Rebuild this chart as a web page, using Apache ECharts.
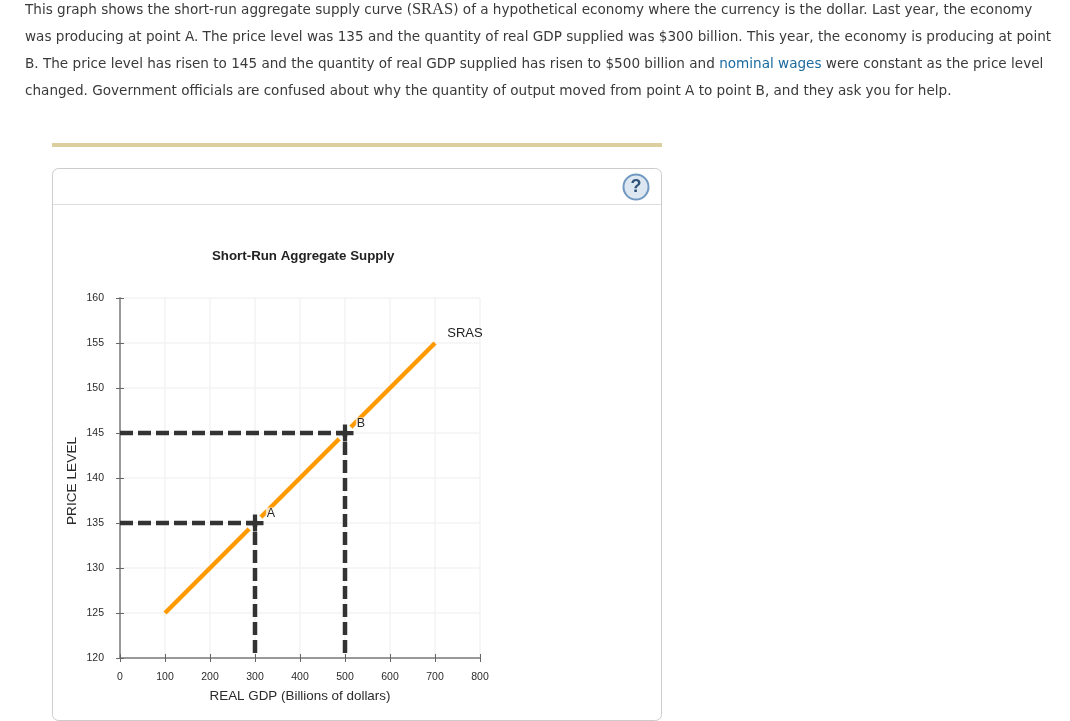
<!DOCTYPE html>
<html><head><meta charset="utf-8">
<style>html,body{margin:0;padding:0;background:#fff}#c{width:1070px;height:721px}</style>
<script src="https://cdn.jsdelivr.net/npm/echarts@6/dist/echarts.min.js"></script>
</head><body><div id="c"></div>
<script>
const paragraph = [
  'This graph shows the short-run aggregate supply curve ({s|SRAS}) of a hypothetical economy where the currency is the dollar. Last year, the economy',
  'was producing at point A. The price level was 135 and the quantity of real GDP supplied was $300 billion. This year, the economy is producing at point',
  'B. The price level has risen to 145 and the quantity of real GDP supplied has risen to $500 billion and {b|nominal wages} were constant as the price level',
  'changed. Government officials are confused about why the quantity of output moved from point A to point B, and they ask you for help.'
];
const chartTitle = 'Short-Run Aggregate Supply';
const xName = 'REAL GDP (Billions of dollars)';
const yName = 'PRICE LEVEL';
const sras = [[100,125],[700,155]];
const guideA = [[0,135],[300,135],[300,120]];
const guideB = [[0,145],[500,145],[500,120]];
const points = [['A',300,135],['B',500,145]];
const curveLabel = ['SRAS',700,155];
const plus = 'path://M3,0H5V3H8V5H5V8H3V5H0V3H3Z';
const AX='#999', GRID='#f3f3f3', TXT='#2b2b2b', DARK='#333';
const font='"Liberation Sans",Arial,sans-serif';

const chart = echarts.init(document.getElementById('c'),null,{renderer:'canvas'});
const base = {min:0,max:800,interval:100};
const ybase = {min:120,max:160,interval:5};
const lineY=[9,36,63,90];
const paraFont='13.58px "DejaVu Sans",Verdana,sans-serif';
const graphic = [
  ...paragraph.map((t,i)=>({type:'text',left:25,top:lineY[i]-8,silent:true,style:{
    text:t,font:paraFont,fill:'#3a3a3a',lineHeight:18,verticalAlign:'top',
    rich:{s:{font:'16.5px "Liberation Serif",serif',fill:'#3a3a3a'},b:{font:paraFont,fill:'#1a6a9e'}}
  }})),
  {type:'rect',shape:{x:52,y:143,width:610,height:4},style:{fill:'#dccf9f'},silent:true},
  {type:'rect',shape:{x:52.5,y:168.5,width:609,height:552,r:6},style:{fill:'none',stroke:'#ccc',lineWidth:1},silent:true},
  {type:'line',shape:{x1:53,y1:204.5,x2:661,y2:204.5},style:{stroke:'#ddd',lineWidth:1},silent:true},
  {type:'circle',shape:{cx:636,cy:187,r:12.5},style:{fill:'#dde7f1',stroke:'#7198c0',lineWidth:2},silent:true},
  {type:'text',x:636,y:187,silent:true,style:{text:'?',font:'bold 18px "Liberation Sans",sans-serif',fill:'#2f5378',align:'center',verticalAlign:'middle'}}
];
chart.setOption({
  animation:false,
  backgroundColor:'#fff',
  title:{text:chartTitle,left:207,top:245,textStyle:{fontFamily:font,fontSize:13.3,fontWeight:'bold',color:'#222'}},
  graphic:graphic,
  grid:{left:120,top:298,width:360,height:360,containLabel:false},
  xAxis:[
    {type:'value',position:'bottom',...base,name:xName,nameLocation:'middle',nameGap:32,
     nameTextStyle:{fontFamily:font,fontSize:13.4,color:TXT},
     axisLine:{onZero:false,lineStyle:{color:AX,width:2}},
     axisTick:{show:true,length:4,lineStyle:{color:'#666',width:1}},
     axisLabel:{fontFamily:font,fontSize:10.5,color:TXT,margin:14,showMinLabel:true,showMaxLabel:true},
     splitLine:{show:true,lineStyle:{color:GRID,width:1.5}}},
    {type:'value',position:'bottom',...base,axisLine:{show:false,onZero:false},
     axisTick:{show:true,inside:true,length:4,lineStyle:{color:'#666',width:1}},axisLabel:{show:false},splitLine:{show:false}}
  ],
  yAxis:[
    {type:'value',position:'left',...ybase,name:yName,nameLocation:'middle',nameGap:41,nameRotate:90,
     nameTextStyle:{fontFamily:font,fontSize:13.7,color:TXT,padding:[0,6,0,0]},
     axisLine:{onZero:false,lineStyle:{color:AX,width:2}},
     axisTick:{show:true,length:4,lineStyle:{color:'#666',width:1}},
     axisLabel:{fontFamily:font,fontSize:10.5,color:TXT,margin:16,padding:[2,0,0,0],showMinLabel:true,showMaxLabel:true},
     splitLine:{show:true,lineStyle:{color:GRID,width:1.5}}},
    {type:'value',position:'left',...ybase,axisLine:{show:false,onZero:false},
     axisTick:{show:true,inside:true,length:4,lineStyle:{color:'#666',width:1}},axisLabel:{show:false},splitLine:{show:false}}
  ],
  series:[
    {type:'line',name:'SRAS',data:sras,z:2,symbol:'none',silent:true,lineStyle:{color:'#f90',width:4.5,cap:'butt'}},
    {type:'scatter',name:'halo',data:points.map(p=>[p[1],p[2]]),z:3,symbol:'circle',symbolSize:17,silent:true,itemStyle:{color:'#fff',opacity:1}},
    {type:'line',name:'Guide A',data:guideA,z:4,symbol:'none',silent:true,lineStyle:{color:DARK,width:4.5,type:[13,5],cap:'butt',join:'miter'}},
    {type:'line',name:'Guide B',data:guideB,z:4,symbol:'none',silent:true,lineStyle:{color:DARK,width:4.5,type:[13,5],cap:'butt',join:'miter'}},
    {type:'scatter',name:'Points',data:points.map(p=>({value:[p[1],p[2]],name:p[0]})),z:5,symbol:plus,symbolSize:17,silent:true,
     itemStyle:{color:DARK,opacity:1},
     label:{show:true,position:'inside',offset:[16,-9],formatter:'{b}',fontFamily:font,fontSize:12.5,color:TXT,backgroundColor:'rgba(255,255,255,0.75)',padding:[0,1]}},
    {type:'scatter',name:'Curve label',data:[{value:[curveLabel[1],curveLabel[2]],name:curveLabel[0]}],z:5,symbolSize:0,silent:true,
     label:{show:true,position:'inside',offset:[30,-10],formatter:'{b}',fontFamily:font,fontSize:13,color:'#222',opacity:1}}
  ]
});
</script></body></html>
